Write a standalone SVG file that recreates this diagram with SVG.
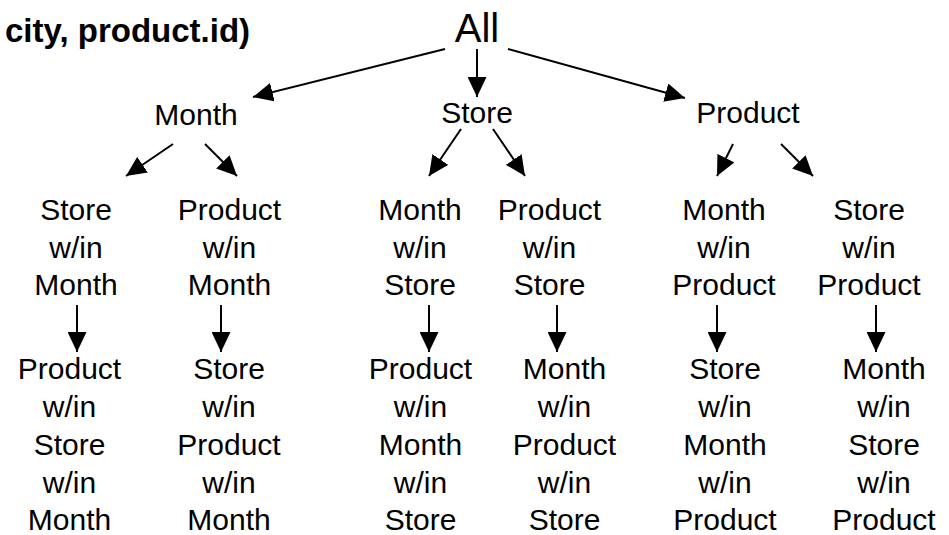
<svg xmlns="http://www.w3.org/2000/svg" width="949" height="535" viewBox="0 0 949 535">
<style>
text{font-family:"Liberation Sans",Arial,sans-serif;fill:#000;text-anchor:middle}
.n{font-size:30px}
.all{font-size:40px}
.hdr{font-size:33px;font-weight:bold;text-anchor:start}
.c line{stroke:#000;stroke-width:2;marker-end:url(#ah)}
</style>
<defs>
<marker id="ah" markerUnits="userSpaceOnUse" markerWidth="20" markerHeight="19" refX="20" refY="9.5" orient="auto" viewBox="0 0 20 19">
<path d="M0,0 L20,9.5 L0,19 z" fill="#000"/>
</marker>
</defs>
<rect width="949" height="535" fill="#fff"/>
<text class="hdr" x="5" y="42">city, product.id)</text>
<g id="all"><text class="all" x="477" y="42">All</text></g>
<g id="month"><text class="n" x="196" y="125">Month</text></g>
<g id="store"><text class="n" x="477" y="123">Store</text></g>
<g id="product"><text class="n" x="748" y="123">Product</text></g>
<g id="store-in-month" class="n"><text class="n" x="76" y="220">Store</text><text class="n" x="76" y="257.5">w/in</text><text class="n" x="76" y="295">Month</text></g>
<g id="product-in-month"><text class="n" x="229.5" y="220">Product</text><text class="n" x="229.5" y="257.5">w/in</text><text class="n" x="229.5" y="295">Month</text></g>
<g id="month-in-store"><text class="n" x="420" y="220">Month</text><text class="n" x="420" y="257.5">w/in</text><text class="n" x="420" y="295">Store</text></g>
<g id="product-in-store"><text class="n" x="549.5" y="220">Product</text><text class="n" x="549.5" y="257.5">w/in</text><text class="n" x="549.5" y="295">Store</text></g>
<g id="month-in-product"><text class="n" x="724" y="220">Month</text><text class="n" x="724" y="257.5">w/in</text><text class="n" x="724" y="295">Product</text></g>
<g id="store-in-product"><text class="n" x="869" y="220">Store</text><text class="n" x="869" y="257.5">w/in</text><text class="n" x="869" y="295">Product</text></g>
<g id="p-s-m"><text class="n" x="69.5" y="379">Product</text><text class="n" x="69.5" y="417">w/in</text><text class="n" x="69.5" y="455">Store</text><text class="n" x="69.5" y="493">w/in</text><text class="n" x="69.5" y="530">Month</text></g>
<g id="s-p-m"><text class="n" x="229" y="379">Store</text><text class="n" x="229" y="417">w/in</text><text class="n" x="229" y="455">Product</text><text class="n" x="229" y="493">w/in</text><text class="n" x="229" y="530">Month</text></g>
<g id="p-m-s"><text class="n" x="420.5" y="379">Product</text><text class="n" x="420.5" y="417">w/in</text><text class="n" x="420.5" y="455">Month</text><text class="n" x="420.5" y="493">w/in</text><text class="n" x="420.5" y="530">Store</text></g>
<g id="m-p-s"><text class="n" x="564.5" y="379">Month</text><text class="n" x="564.5" y="417">w/in</text><text class="n" x="564.5" y="455">Product</text><text class="n" x="564.5" y="493">w/in</text><text class="n" x="564.5" y="530">Store</text></g>
<g id="s-m-p"><text class="n" x="725" y="379">Store</text><text class="n" x="725" y="417">w/in</text><text class="n" x="725" y="455">Month</text><text class="n" x="725" y="493">w/in</text><text class="n" x="725" y="530">Product</text></g>
<g id="m-s-p"><text class="n" x="884" y="379">Month</text><text class="n" x="884" y="417">w/in</text><text class="n" x="884" y="455">Store</text><text class="n" x="884" y="493">w/in</text><text class="n" x="884" y="530">Product</text></g>
<g id="connectors" class="c">
<line x1="445" y1="49" x2="253" y2="97"/>
<line x1="477" y1="49" x2="477" y2="97"/>
<line x1="508" y1="49" x2="685" y2="98"/>
<line x1="173" y1="144" x2="126" y2="176"/>
<line x1="205" y1="144" x2="237" y2="176"/>
<line x1="461" y1="129" x2="429" y2="176"/>
<line x1="493" y1="129" x2="525" y2="176"/>
<line x1="733" y1="144" x2="717" y2="176"/>
<line x1="781" y1="144" x2="813" y2="176"/>
<line x1="77" y1="305" x2="77" y2="352"/>
<line x1="221" y1="305" x2="221" y2="352"/>
<line x1="429" y1="305" x2="429" y2="352"/>
<line x1="557" y1="305" x2="557" y2="352"/>
<line x1="717" y1="305" x2="717" y2="352"/>
<line x1="876" y1="305" x2="876" y2="352"/>
</g>
</svg>
